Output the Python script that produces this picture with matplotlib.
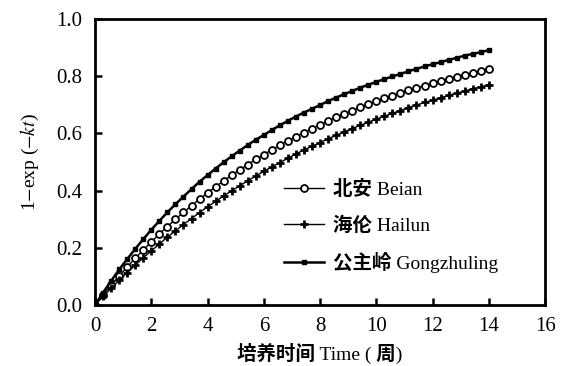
import numpy as np
import matplotlib
matplotlib.use('Agg')
from matplotlib import pyplot as plt
from matplotlib import font_manager as fm

# bold CJK face registered under its own name, so Latin text stays regular
cjk = 'Noto Sans CJK SC'
found = None
for f in fm.fontManager.ttflist:
    w = f.weight
    if isinstance(w, str):
        w = {'bold': 700, 'heavy': 800, 'black': 900, 'semibold': 600,
             'demibold': 600, 'extra bold': 800}.get(w.lower(), 400)
    if f.name.startswith('Noto Sans CJK') and w >= 600:
        if found is None or abs(w - 700) < abs(found[1] - 700):
            found = (f.fname, w)
if found is not None:
    fm.fontManager.ttflist.append(fm.FontEntry(
        fname=found[0], name='CJK Bold', style='normal', variant='normal',
        weight=400, stretch='normal', size='scalable'))
    cjk = 'CJK Bold'

plt.rcParams['font.family'] = ['Liberation Serif', cjk]
plt.rcParams['mathtext.fontset'] = 'stix'

# sampling days (every 2 days, 0-98 d)
days = [0, 2, 4, 6, 8, 10, 12, 14, 16, 18, 20, 22, 24, 26, 28, 30, 32, 34, 36, 38,
        40, 42, 44, 46, 48, 50, 52, 54, 56, 58, 60, 62, 64, 66, 68, 70, 72, 74, 76, 78,
        80, 82, 84, 86, 88, 90, 92, 94, 96, 98]

beian = [0.000, 0.035, 0.069, 0.101, 0.133, 0.163, 0.192, 0.220, 0.248, 0.274,
         0.299, 0.324, 0.347, 0.370, 0.392, 0.413, 0.434, 0.454, 0.473, 0.491,
         0.509, 0.526, 0.543, 0.559, 0.574, 0.589, 0.603, 0.617, 0.631, 0.644,
         0.656, 0.668, 0.680, 0.691, 0.702, 0.712, 0.722, 0.732, 0.741, 0.750,
         0.759, 0.767, 0.776, 0.783, 0.791, 0.798, 0.805, 0.812, 0.819, 0.825]

hailun = [0.000, 0.030, 0.058, 0.086, 0.113, 0.139, 0.165, 0.189, 0.213, 0.237,
          0.259, 0.281, 0.302, 0.323, 0.343, 0.362, 0.381, 0.399, 0.417, 0.434,
          0.451, 0.467, 0.483, 0.498, 0.513, 0.528, 0.542, 0.555, 0.568, 0.581,
          0.593, 0.605, 0.617, 0.628, 0.639, 0.650, 0.660, 0.670, 0.680, 0.690,
          0.699, 0.708, 0.716, 0.725, 0.733, 0.741, 0.748, 0.756, 0.763, 0.770]

gongzhuling = [0.000, 0.043, 0.084, 0.124, 0.160, 0.196, 0.230, 0.263, 0.294, 0.324,
               0.352, 0.379, 0.405, 0.431, 0.454, 0.477, 0.499, 0.520, 0.540, 0.559,
               0.578, 0.594, 0.612, 0.628, 0.644, 0.659, 0.673, 0.686, 0.699, 0.713,
               0.725, 0.737, 0.748, 0.760, 0.770, 0.780, 0.790, 0.799, 0.808, 0.817,
               0.826, 0.834, 0.842, 0.849, 0.857, 0.864, 0.872, 0.878, 0.884, 0.891]

labels = ['北安 Beian', '海伦 Hailun', '公主岭 Gongzhuling']
xticks = [0, 2, 4, 6, 8, 10, 12, 14, 16]
yticks = [0.0, 0.2, 0.4, 0.6, 0.8, 1.0]

weeks = np.array(days) / 7.0

fig = plt.figure(figsize=(5.66, 3.66), dpi=100)
ax = fig.add_axes([0.168, 0.167, 0.795, 0.781])

ax.plot(weeks, beian, color='k', lw=1.0, marker='o', ms=5, mfc='white',
        mec='k', mew=1.3, label=labels[0])
ax.plot(weeks, hailun, color='k', lw=1.0, marker='+', ms=6, mew=2.0,
        label=labels[1])
ax.plot(weeks, gongzhuling, color='k', lw=1.8, marker='s', ms=3.5,
        label=labels[2])

ax.set_xlim(0, 16)
ax.set_ylim(0, 1.0)
ax.set_xticks(xticks)
ax.set_yticks(yticks)
ax.set_yticklabels(['%.1f' % v for v in yticks])

for s in ax.spines.values():
    s.set_linewidth(2.0)
ax.tick_params(direction='in', length=5, width=1.8, labelsize=15,
               top=False, right=False, pad=9)

ax.set_xlabel('培养时间 Time ( 周)', fontsize=14, labelpad=5)
ax.set_ylabel('1$-$exp ($-kt$)', fontsize=14, labelpad=11)

leg = ax.legend(loc='lower left', bbox_to_anchor=(0.38, 0.05), frameon=False,
                fontsize=14, handlelength=2.1, handletextpad=0.45,
                labelspacing=0.9, numpoints=1)

fig.savefig('out.png', dpi=100)
